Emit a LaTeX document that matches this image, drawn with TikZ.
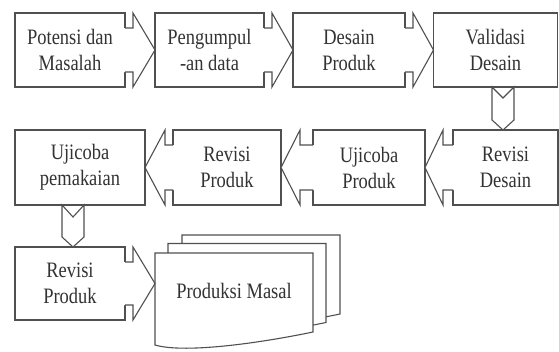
\documentclass[tikz,border=0pt]{standalone}
\usepackage{fontspec}
\setmainfont[FakeStretch=0.84]{Liberation Serif}
\usetikzlibrary{calc}
\definecolor{lc}{HTML}{505050}
\definecolor{tc}{HTML}{333333}
\tikzset{
  stepbox/.style={draw=lc, line width=1.1pt, fill=white, minimum height=74pt,
    inner sep=0pt, outer sep=0pt, align=center, text=tc,
    font=\fontsize{22}{26}\selectfont},
  arr/.style={draw=lc, line width=1.1pt, line join=miter},
}
% right-pointing block arrow: from, to, shaft length
\newcommand{\RArr}[3]{%
  \fill[white] ($(#1.north east)+(-1pt,-15pt)$) -- ($(#1.north east)+(#3,-15pt)$)
    -- ($(#1.north east)+(#3,0pt)$) -- (#2.west |- #1.east)
    -- ($(#1.south east)+(#3,0pt)$) -- ($(#1.south east)+(#3,15pt)$)
    -- ($(#1.south east)+(-1pt,15pt)$) -- cycle;
  \draw[arr] ($(#1.north east)+(0pt,-15pt)$) -- ($(#1.north east)+(#3,-15pt)$)
    -- ($(#1.north east)+(#3,0pt)$) -- (#2.west |- #1.east)
    -- ($(#1.south east)+(#3,0pt)$) -- ($(#1.south east)+(#3,15pt)$)
    -- ($(#1.south east)+(0pt,15pt)$);
}
% left-pointing block arrow: from, to, shaft length
\newcommand{\LArr}[3]{%
  \fill[white] ($(#1.north west)+(1pt,-15pt)$) -- ($(#1.north west)+(-#3,-15pt)$)
    -- ($(#1.north west)+(-#3,0pt)$) -- (#2.east |- #1.west)
    -- ($(#1.south west)+(-#3,0pt)$) -- ($(#1.south west)+(-#3,15pt)$)
    -- ($(#1.south west)+(1pt,15pt)$) -- cycle;
  \draw[arr] ($(#1.north west)+(0pt,-15pt)$) -- ($(#1.north west)+(-#3,-15pt)$)
    -- ($(#1.north west)+(-#3,0pt)$) -- (#2.east |- #1.west)
    -- ($(#1.south west)+(-#3,0pt)$) -- ($(#1.south west)+(-#3,15pt)$)
    -- ($(#1.south west)+(0pt,15pt)$);
}
% downward chevron arrow: from, to, x coordinate, notch depth
\newcommand{\DArr}[4]{%
  \filldraw[arr, fill=white] ($(#3 |- #1.south)+(-11pt,0pt)$)
    -- ($(#3 |- #1.south)+(0pt,-#4)$) -- ($(#3 |- #1.south)+(11pt,0pt)$)
    -- ($(#3 |- #2.north)+(11pt,10pt)$) -- (#3 |- #2.north)
    -- ($(#3 |- #2.north)+(-11pt,10pt)$) -- cycle;
}
\newcommand{\DocPage}[2]{%
  \filldraw[arr, fill=white, shift={(#1,#2)}] (155,253) -- (313,253) -- (313,332)
    .. controls (250,345) and (182,353) .. (155,345) -- cycle;
}
\begin{document}
\begin{tikzpicture}[x=1pt,y=-1pt]
\fill[white] (0,0) rectangle (559,351);
\useasboundingbox (0,0) rectangle (559,351);
% row 1
\node[stepbox, minimum width=110pt] (b1) at (70,50) {Potensi dan\\Masalah};
\node[stepbox, minimum width=109pt] (b2) at (209.5,50) {Pengumpul\\-an data};
\node[stepbox, minimum width=112pt] (b3) at (349,50) {Desain\\Produk};
\node[stepbox, minimum width=124pt] (b4) at (495.5,50) {Validasi\\Desain};
% row 2
\node[stepbox, minimum width=130pt, minimum height=75pt] (c1) at (80,167.5) {Ujicoba\\pemakaian};
\node[stepbox, minimum width=108pt, minimum height=75pt] (c2) at (227,167.5) {Revisi\\Produk};
\node[stepbox, minimum width=112pt, minimum height=75pt] (c3) at (369,167.5) {Ujicoba\\Produk};
\node[stepbox, minimum width=105pt, minimum height=75pt] (c4) at (505.5,167.5) {Revisi\\Desain};
% row 3
\node[stepbox, minimum width=110pt, minimum height=73pt] (d1) at (70,283.5) {Revisi\\Produk};
% document stack
\DocPage{27}{-18}
\DocPage{13}{-9.5}
\DocPage{0}{0}
\node[stepbox, draw=none, fill=none, minimum width=158pt, minimum height=60pt] (doc) at (234,291) {Produksi Masal};
% connectors
\coordinate (xa) at (503,0);
\coordinate (xb) at (73,0);
\RArr{b1}{b2}{8pt}
\RArr{b2}{b3}{8pt}
\RArr{b3}{b4}{8pt}
\DArr{b4}{c4}{xa}{11pt}
\LArr{c4}{c3}{10pt}
\LArr{c3}{c2}{13pt}
\LArr{c2}{c1}{8pt}
\DArr{c1}{d1}{xb}{12pt}
\RArr{d1}{doc}{8pt}
\end{tikzpicture}
\end{document}
